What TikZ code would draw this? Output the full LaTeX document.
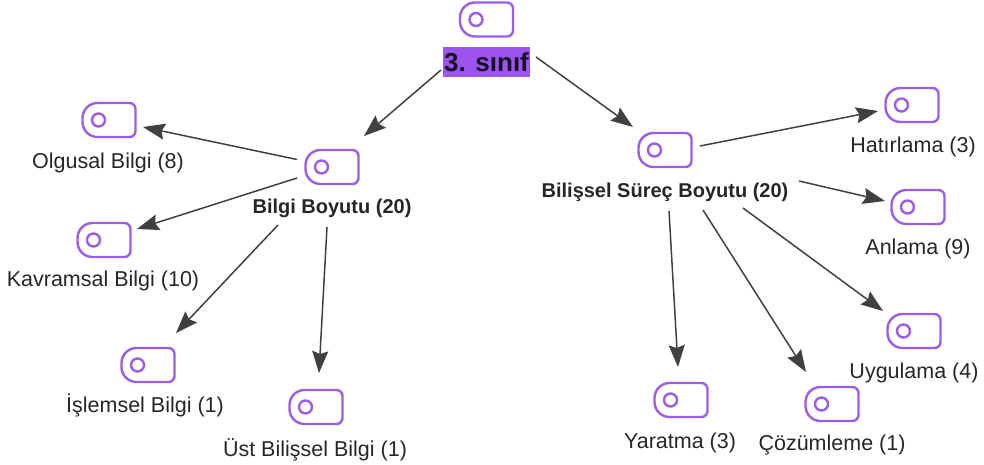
\documentclass[tikz,border=0pt]{standalone}
\usepackage{fontspec}
\setmainfont{Liberation Sans}
\usetikzlibrary{arrows.meta,calc}
\definecolor{iconc}{HTML}{9A5FE6}
\definecolor{rootc}{HTML}{9B55EE}
\definecolor{linec}{HTML}{404040}
\definecolor{textc}{HTML}{262626}
\tikzset{
  x=1pt,y=-1pt,
  anchorbox/.style={minimum width=54pt,minimum height=34pt,inner sep=0pt},
  iconline/.style={draw=iconc,line width=2.4pt},
  lbl/.style={inner sep=0pt,text=textc,yshift=-1.5pt,font=\fontsize{21.5}{24}\selectfont},
  lblb/.style={lbl,font=\fontsize{20}{24}\selectfont\bfseries},
  rootlbl/.style={fill=rootc,text=black!85!rootc,font=\fontsize{26}{30}\selectfont\bfseries,minimum width=87pt,minimum height=30pt,inner sep=0pt},
  arr/.style={draw=linec,line width=1.5pt,-{Stealth[length=22pt,width=16pt,inset=3pt]}}
}
\newcommand{\tagicon}[3]{%
  \node[anchorbox] (#1) at (#2,#3) {};
  \draw[iconline,shift={(#2,#3)}] (0,-17) [rounded corners=6pt] -- (26.5,-17) -- (26.5,17) [rounded corners=15pt] -- (-26.5,17) -- (-26.5,-17) -- cycle;
  \draw[iconline,shift={(#2,#3)}] (-10.5,0) circle[radius=6.5pt];
}
\begin{document}
\begin{tikzpicture}
\useasboundingbox (0,0) rectangle (984,464);
\tagicon{root}{486.5}{19.5}
\tagicon{bilgi}{332}{167}
\tagicon{olgusal}{109}{120}
\tagicon{kavramsal}{104}{240}
\tagicon{islemsel}{148}{365}
\tagicon{ust}{316}{407}
\tagicon{bilis}{665}{150}
\tagicon{hatirlama}{912}{105}
\tagicon{anlama}{918}{207}
\tagicon{uygulama}{914}{331}
\tagicon{yaratma}{681}{400}
\tagicon{cozum}{832}{404}
\node[rootlbl] (rootl) at (486.5,62) {3. sınıf};
\node[lblb] (bilgil) at (332,207) {Bilgi Boyutu (20)};
\node[lbl] (olgusall) at (108,161) {Olgusal Bilgi (8)};
\node[lbl] (kavramsall) at (103,279) {Kavramsal Bilgi (10)};
\node[lbl] (islemsell) at (145,404) {İşlemsel Bilgi (1)};
\node[lbl] (ustl) at (315,448) {Üst Bilişsel Bilgi (1)};
\node[lblb] (bilisl) at (665,191) {Bilişsel Süreç Boyutu (20)};
\node[lbl] (hatirlamal) at (913,145) {Hatırlama (3)};
\node[lbl] (anlamal) at (918,247) {Anlama (9)};
\node[lbl] (uygulamal) at (914,371) {Uygulama (4)};
\node[lbl] (yaratmal) at (680,441) {Yaratma (3)};
\node[lbl] (cozuml) at (832,443) {Çözümleme (1)};
\draw[arr] ($(root)+(-45.5,50.5)$) -- ($(bilgi)+(32,-31)$);
\draw[arr] ($(root)+(49.5,37.5)$) -- ($(bilis)+(-32,-23)$);
\draw[arr] ($(bilgi)+(-35,-7.5)$) -- ($(olgusal)+(34,7)$);
\draw[arr] ($(bilgi)+(-35,11)$) -- ($(kavramsal)+(33,-11)$);
\draw[arr] ($(bilgi)+(-54,58)$) -- ($(islemsel)+(28,-32)$);
\draw[arr] ($(bilgi)+(-5,60)$) -- ($(ust)+(3,-34)$);
\draw[arr] ($(bilis)+(35,-4)$) -- ($(hatirlama)+(-34,6)$);
\draw[arr] ($(bilis)+(134,31)$) -- ($(anlama)+(-33,-6)$);
\draw[arr] ($(bilis)+(78,58)$) -- ($(uygulama)+(-31,-20)$);
\draw[arr] ($(bilis)+(38,60)$) -- ($(cozum)+(-26,-32)$);
\draw[arr] ($(bilis)+(4,61)$) -- ($(yaratma)+(-3,-33)$);
\end{tikzpicture}
\end{document}
